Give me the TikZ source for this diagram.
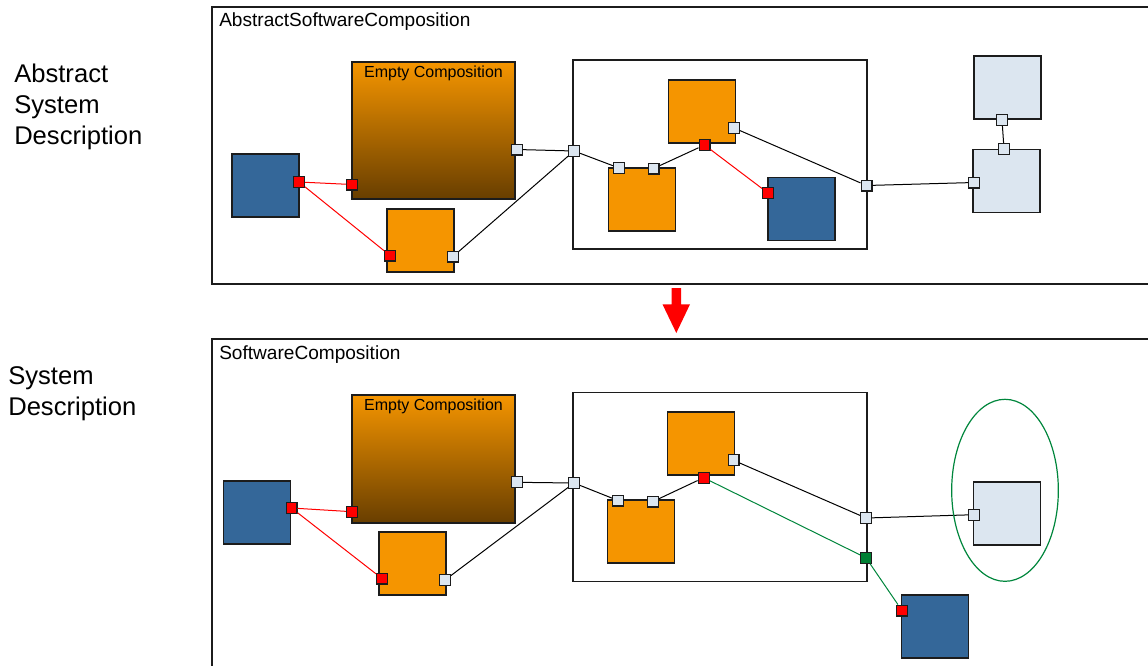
\documentclass[tikz,border=0pt]{standalone}
\usepackage{fontspec}
\setmainfont{Liberation Sans}
\usepackage{xcolor}
\usepackage{tikz}
\usetikzlibrary{positioning,shapes.geometric}

\definecolor{comporange}{RGB}{245,149,0}
\definecolor{compbrown}{RGB}{104,62,0}
\definecolor{compblue}{RGB}{52,103,153}
\definecolor{complight}{RGB}{220,230,240}
\definecolor{portred}{RGB}{255,0,0}
\definecolor{portgreen}{RGB}{0,128,52}
\definecolor{wiregreen}{RGB}{0,134,60}
\definecolor{edgegray}{RGB}{28,28,28}

\begin{document}
\begin{tikzpicture}[
  x=0.75pt, y=-0.75pt,
  frame/.style={draw=edgegray, line width=1.3pt, anchor=north west, inner sep=0pt, minimum width=720pt},
  blk/.style={draw=edgegray, line width=1.1pt, fill=#1, minimum width=50pt, minimum height=47.5pt, inner sep=0pt},
  blk/.default={comporange},
  empty/.style={draw=edgegray, line width=1.1pt, top color=comporange, middle color=comporange!72!compbrown, bottom color=compbrown, minimum width=122.25pt, inner sep=0pt},
  cont/.style={draw=edgegray, line width=1.1pt, fill=white, minimum width=220.5pt, minimum height=141.5pt, inner sep=0pt},
  port/.style={draw=edgegray, line width=0.8pt, fill=#1, minimum size=8.2pt, inner sep=0pt},
  port/.default={complight},
  wire/.style={line width=0.75pt, color=black},
  lbl/.style={font=\fontsize{12}{14}\selectfont, inner sep=0pt},
  title/.style={font=\fontsize{14.3}{17}\selectfont, inner sep=0pt, anchor=base west},
  side/.style={font=\fontsize{19.2}{23.25}\selectfont, align=left, anchor=west, inner sep=0pt}
]
\useasboundingbox (0,0) rectangle (1148,665);
\clip (0,0) rectangle (1148,665);

% ── Side labels ──────────────────────────────────────────────
\node[side] (asd) at (14,107) {Abstract\\System\\Description};
\node[side] (sd)  at (8,393.5) {System\\Description};

% ── Abstract composition (top) ───────────────────────────────
\node[frame, minimum height=207.75pt] (asc) at (211,6) {};
\node[title] (asc_lbl) at ([xshift=6pt, yshift=-15.5pt]asc.north west) {AbstractSoftwareComposition};

\node[blk=compblue] (blue1) at (265.5,185.5) {};
\node[empty, minimum height=102.75pt] (ec1) at (433.5,130.5) {};
\node[lbl, anchor=base] (ec1_lbl) at ([yshift=-12pt]ec1.north) {Empty Composition};
\node[blk] (or1) at (420.5,240.5) {};
\node[cont] (cont1) at (720,154.5) {};
\node[blk] (or2) at (702,111.5) {};
\node[blk] (or3) at (642,199.5) {};
\node[blk=compblue] (blue2) at (801.5,209) {};
\node[blk=complight] (lt1) at (1006.5,181) {};
\node[blk=complight] (lt2) at (1007.5,87.5) {};

% ── Ports (top) ──────────────────────────────────────────────
\node[port=portred] (blue1_p) at (299,182) {};
\node[port=portred] (ec1_pr)  at (352,184.5) {};
\node[port]         (ec1_pl)  at (517,149.5) {};
\node[port=portred] (or1_pr)  at (390,255.5) {};
\node[port]         (or1_pl)  at (453,256.5) {};
\node[port]         (cont1_w) at (574,151) {};
\node[port]         (or3_a)   at (619,168) {};
\node[port]         (or3_b)   at (653.5,168.5) {};
\node[port=portred] (or2_pr)  at (704.5,145) {};
\node[port]         (or2_pl)  at (734,128) {};
\node[port=portred] (blue2_p) at (768,193) {};
\node[port]         (cont1_e) at (866.5,185.5) {};
\node[port]         (lt1_w)   at (974,182.5) {};
\node[port]         (lt1_n)   at (1004,149) {};
\node[port]         (lt2_s)   at (1002,120) {};

% ── Wires (top) ──────────────────────────────────────────────
\draw[wire, portred] (blue1_p) -- (ec1_pr);
\draw[wire, portred] (blue1_p) -- (or1_pr);
\draw[wire] (ec1_pl)  -- (cont1_w);
\draw[wire] (or1_pl)  -- (cont1_w);
\draw[wire] (cont1_w) -- (or3_a);
\draw[wire] (or3_b)   -- (or2_pr);
\draw[wire, portred] (or2_pr) -- (blue2_p);
\draw[wire] (or2_pl)  -- (cont1_e);
\draw[wire] (cont1_e) -- (lt1_w);
\draw[wire] (lt1_n)   -- (lt2_s);

% ── Transition arrow ─────────────────────────────────────────
\fill[portred] (671.7,288) -- (681,288) -- (681,304.3) -- (690,304.3) -- (676.3,333)
  -- (662.5,304.3) -- (671.7,304.3) -- cycle;

% ── Concrete composition (bottom) ────────────────────────────
\node[frame, minimum height=272pt] (sc) at (211,338) {};
\node[title] (sc_lbl) at ([xshift=6pt, yshift=-15.8pt]sc.north west) {SoftwareComposition};

\node[blk=compblue] (blue3) at (257,512.5) {};
\node[empty, minimum height=96pt] (ec2) at (433.5,459) {};
\node[lbl, anchor=base] (ec2_lbl) at ([yshift=-12pt]ec2.north) {Empty Composition};
\node[blk] (or4) at (412.5,563.5) {};
\node[cont] (cont2) at (720,487) {};
\node[blk] (or5) at (701,443.5) {};
\node[blk] (or6) at (641,531.5) {};
\node[blk=complight] (lt3) at (1007,513.5) {};
\node[blk=compblue] (blue4) at (935,626.5) {};

% ── Ports (bottom) ───────────────────────────────────────────
\node[port=portred]   (blue3_p) at (291.5,508) {};
\node[port=portred]   (ec2_pr)  at (352,511.7) {};
\node[port]           (ec2_pl)  at (517,482.3) {};
\node[port=portred]   (or4_pr)  at (382,578.5) {};
\node[port]           (or4_pl)  at (445,580) {};
\node[port]           (cont2_w) at (574,483) {};
\node[port]           (or6_a)   at (618,500.5) {};
\node[port]           (or6_b)   at (653,501.5) {};
\node[port=portred]   (or5_pr)  at (703.6,477.7) {};
\node[port]           (or5_pl)  at (733.5,460.3) {};
\node[port]           (cont2_e) at (866,518) {};
\node[port=portgreen] (cont2_g) at (866,557.8) {};
\node[port]           (lt3_w)   at (974,514.7) {};
\node[port=portred]   (blue4_p) at (902,610.5) {};

% ── Wires (bottom) ───────────────────────────────────────────
\draw[wire, portred] (blue3_p) -- (ec2_pr);
\draw[wire, portred] (blue3_p) -- (or4_pr);
\draw[wire] (ec2_pl)  -- (cont2_w);
\draw[wire] (or4_pl)  -- (cont2_w);
\draw[wire] (cont2_w) -- (or6_a);
\draw[wire] (or6_b)   -- (or5_pr);
\draw[wire] (or5_pl)  -- (cont2_e);
\draw[wire] (cont2_e) -- (lt3_w);
\draw[wire, wiregreen] (or5_pr)  -- (cont2_g);
\draw[wire, wiregreen] (cont2_g) -- (blue4_p);

% ── Selection ────────────────────────────────────────────────
\node[draw=wiregreen, line width=0.9pt, ellipse, inner sep=0pt, minimum width=80pt, minimum height=136.5pt] (sel) at (1005,490.3) {};

\end{tikzpicture}
\end{document}
